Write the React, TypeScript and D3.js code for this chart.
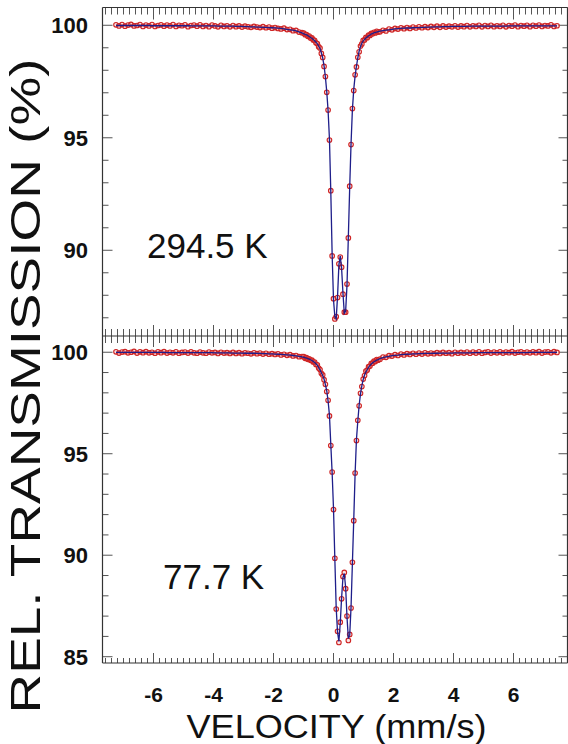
import { useEffect, useRef } from 'react';
import * as d3 from 'd3';

// channel velocities (mm/s)
const velocity = [
  -7.25, -7.15, -7.05, -6.95, -6.85, -6.75, -6.65, -6.55, -6.45, -6.35,
  -6.25, -6.15, -6.05, -5.95, -5.85, -5.75, -5.65, -5.55, -5.45, -5.35,
  -5.25, -5.15, -5.05, -4.95, -4.85, -4.75, -4.65, -4.55, -4.45, -4.35,
  -4.25, -4.15, -4.05, -3.95, -3.85, -3.75, -3.65, -3.55, -3.45, -3.35,
  -3.25, -3.15, -3.05, -2.95, -2.85, -2.75, -2.65, -2.55, -2.45, -2.35,
  -2.25, -2.15, -2.05, -1.95, -1.85, -1.75, -1.65, -1.55, -1.45, -1.35,
  -1.25, -1.15, -1.05,
  -0.99, -0.945, -0.9, -0.855, -0.81, -0.765, -0.72, -0.675, -0.63, -0.585,
  -0.54, -0.495, -0.45, -0.405, -0.36, -0.315, -0.27, -0.225, -0.18, -0.135,
  -0.09, -0.045, 0, 0.045, 0.09, 0.135, 0.18, 0.225, 0.27, 0.315,
  0.36, 0.405, 0.45, 0.495, 0.54, 0.585, 0.63, 0.675, 0.72, 0.765,
  0.81, 0.855, 0.9, 0.945, 0.99, 1.035, 1.08, 1.125, 1.17, 1.215,
  1.26, 1.305, 1.35, 1.395, 1.44, 1.485,
  1.55, 1.65, 1.75, 1.85, 1.95, 2.05, 2.15, 2.25, 2.35, 2.45,
  2.55, 2.65, 2.75, 2.85, 2.95, 3.05, 3.15, 3.25, 3.35, 3.45,
  3.55, 3.65, 3.75, 3.85, 3.95, 4.05, 4.15, 4.25, 4.35, 4.45,
  4.55, 4.65, 4.75, 4.85, 4.95, 5.05, 5.15, 5.25, 5.35, 5.45,
  5.55, 5.65, 5.75, 5.85, 5.95, 6.05, 6.15, 6.25, 6.35, 6.45,
  6.55, 6.65, 6.75, 6.85, 6.95, 7.05, 7.15, 7.25, 7.35, 7.45,
];

// 294.5 K : measured points and fitted curve (%)
const data294 = [
  100.02, 99.97, 100.03, 99.96, 100.01, 100.04, 99.97, 99.99, 100.03, 99.95,
  100.01, 99.97, 100.03, 99.95, 99.99, 100.02, 99.96, 100.01, 99.97, 100.03,
  99.95, 100.0, 99.98, 100.02, 99.94, 99.99, 100.01, 99.96, 100.02, 99.95,
  99.99, 99.94, 100.01, 99.97, 99.93, 100.0, 99.95, 99.98, 99.93, 99.99,
  99.94, 99.97, 99.92, 99.96, 99.93, 99.91, 99.95, 99.92, 99.9, 99.94,
  99.89, 99.92, 99.87, 99.9, 99.86, 99.84, 99.87, 99.81, 99.82, 99.76,
  99.77, 99.7, 99.67,
  99.65, 99.58, 99.59, 99.51, 99.52, 99.43, 99.44, 99.35, 99.33, 99.22,
  99.19, 99.05, 98.99, 98.75, 98.57, 98.17, 97.72, 97.02, 96.23, 94.9,
  92.65, 89.75, 87.85, 86.95, 87.05, 87.9, 89.4, 89.7, 89.25, 88.05,
  87.25, 87.25, 88.5, 90.55, 92.85, 94.7, 96.3, 97.1, 97.8, 98.15,
  98.58, 98.82, 99.08, 99.17, 99.33, 99.35, 99.46, 99.45, 99.56, 99.55,
  99.64, 99.62, 99.69, 99.66, 99.73, 99.7,
  99.71, 99.78, 99.75, 99.83, 99.8, 99.86, 99.83, 99.89, 99.85, 99.9,
  99.86, 99.92, 99.88, 99.93, 99.89, 99.94, 99.9, 99.95, 99.91, 99.96,
  99.91, 99.97, 99.92, 99.96, 99.93, 99.98, 99.92, 99.97, 99.94, 99.99,
  99.93, 99.98, 99.95, 100.0, 99.93, 99.99, 99.95, 100.0, 99.94, 99.98,
  99.95, 100.0, 99.93, 99.99, 99.96, 100.01, 99.94, 99.99, 99.96, 100.0,
  99.94, 100.0, 99.96, 100.01, 99.95, 99.99, 99.97, 100.02, 99.95, 99.98,
];
const fit294 = [
  99.99, 99.99, 99.99, 99.99, 99.99, 99.99, 99.99, 99.99, 99.99, 99.99,
  99.99, 99.99, 99.98, 99.98, 99.98, 99.98, 99.98, 99.98, 99.98, 99.98,
  99.98, 99.98, 99.98, 99.98, 99.98, 99.97, 99.97, 99.97, 99.97, 99.97,
  99.97, 99.97, 99.97, 99.97, 99.96, 99.96, 99.96, 99.96, 99.96, 99.96,
  99.95, 99.95, 99.95, 99.94, 99.94, 99.93, 99.93, 99.92, 99.92, 99.91,
  99.91, 99.9, 99.89, 99.88, 99.87, 99.86, 99.84, 99.82, 99.8, 99.78,
  99.75, 99.71, 99.66,
  99.62, 99.6, 99.57, 99.54, 99.5, 99.46, 99.42, 99.37, 99.31, 99.25,
  99.17, 99.08, 98.97, 98.78, 98.55, 98.2, 97.7, 97.05, 96.2, 94.95,
  92.6, 89.8, 87.8, 87.05, 86.95, 87.95, 89.35, 89.75, 89.2, 88.1,
  87.2, 87.3, 88.45, 90.6, 92.8, 94.75, 96.25, 97.15, 97.75, 98.18,
  98.55, 98.85, 99.05, 99.2, 99.3, 99.37, 99.43, 99.48, 99.53, 99.57,
  99.61, 99.64, 99.66, 99.68, 99.7, 99.72,
  99.74, 99.76, 99.78, 99.8, 99.82, 99.84, 99.85, 99.86, 99.87, 99.88,
  99.88, 99.89, 99.9, 99.9, 99.91, 99.91, 99.92, 99.92, 99.93, 99.93,
  99.93, 99.94, 99.94, 99.94, 99.95, 99.95, 99.95, 99.95, 99.95, 99.95,
  99.96, 99.96, 99.96, 99.96, 99.96, 99.96, 99.96, 99.96, 99.96, 99.96,
  99.96, 99.96, 99.96, 99.97, 99.97, 99.97, 99.97, 99.97, 99.97, 99.97,
  99.97, 99.97, 99.97, 99.97, 99.97, 99.97, 99.97, 99.97, 99.97, 99.97,
];

// 77.7 K : measured points and fitted curve (%)
const data77 = [
  100.02, 99.96, 100.01, 100.03, 99.97, 100.0, 100.04, 99.96, 100.02, 99.98,
  100.03, 99.97, 100.0, 99.95, 100.02, 99.98, 100.03, 99.96, 100.0, 99.97,
  100.02, 99.95, 99.99, 100.01, 99.96, 100.02, 99.97, 99.95, 100.01, 99.97,
  99.95, 100.01, 99.97, 99.99, 99.94, 100.0, 99.96, 99.98, 99.94, 99.99,
  99.94, 99.98, 99.93, 99.97, 99.95, 99.92, 99.97, 99.93, 99.96, 99.91,
  99.95, 99.9, 99.93, 99.89, 99.92, 99.87, 99.9, 99.85, 99.88, 99.82,
  99.84, 99.78, 99.79,
  99.78, 99.7, 99.73, 99.65, 99.68, 99.6, 99.61, 99.52, 99.52, 99.4,
  99.38, 99.22, 99.15, 98.96, 98.88, 98.65, 98.42, 98.06, 97.63, 96.86,
  95.4, 94.1, 92.25, 89.85, 87.35, 86.25, 85.7, 86.7, 87.85, 88.95,
  89.15, 88.35, 87.0, 85.8, 86.1, 87.4, 89.65, 91.7, 94.05, 95.65,
  96.65, 97.36, 97.98, 98.31, 98.68, 98.85, 99.07, 99.12, 99.29, 99.32,
  99.45, 99.46, 99.56, 99.54, 99.64, 99.61,
  99.66, 99.76, 99.75, 99.83, 99.81, 99.88, 99.84, 99.91, 99.87, 99.93,
  99.89, 99.95, 99.9, 99.96, 99.91, 99.97, 99.92, 99.96, 99.93, 99.98,
  99.94, 99.99, 99.95, 99.98, 99.93, 100.0, 99.95, 99.99, 99.96, 100.01,
  99.95, 100.01, 99.96, 100.02, 99.95, 99.99, 100.02, 99.96, 100.01, 99.97,
  100.02, 99.96, 100.01, 99.98, 100.03, 99.96, 100.0, 100.02, 99.97, 100.01,
  99.97, 100.02, 99.98, 100.03, 99.96, 100.01, 100.02, 99.97, 100.03, 99.99,
];
const fit77 = [
  99.99, 99.99, 99.99, 99.99, 99.99, 99.99, 99.99, 99.99, 99.99, 99.99,
  99.99, 99.99, 99.99, 99.99, 99.99, 99.99, 99.99, 99.98, 99.98, 99.98,
  99.98, 99.98, 99.98, 99.98, 99.98, 99.98, 99.98, 99.98, 99.98, 99.98,
  99.98, 99.98, 99.98, 99.97, 99.97, 99.97, 99.97, 99.97, 99.97, 99.96,
  99.96, 99.96, 99.96, 99.95, 99.95, 99.95, 99.95, 99.94, 99.94, 99.93,
  99.93, 99.92, 99.92, 99.91, 99.9, 99.89, 99.88, 99.87, 99.86, 99.84,
  99.82, 99.8, 99.77,
  99.75, 99.73, 99.71, 99.68, 99.66, 99.63, 99.59, 99.55, 99.5, 99.43,
  99.36, 99.25, 99.13, 98.99, 98.85, 98.68, 98.4, 98.1, 97.6, 96.9,
  95.45, 94.05, 92.3, 89.8, 87.4, 86.2, 85.75, 86.65, 87.9, 88.9,
  89.1, 88.4, 86.95, 85.9, 86.05, 87.45, 89.6, 91.75, 94.0, 95.7,
  96.6, 97.4, 97.95, 98.35, 98.65, 98.88, 99.03, 99.15, 99.26, 99.35,
  99.42, 99.48, 99.53, 99.57, 99.61, 99.64,
  99.69, 99.74, 99.77, 99.8, 99.83, 99.85, 99.86, 99.88, 99.89, 99.9,
  99.91, 99.92, 99.92, 99.93, 99.93, 99.94, 99.94, 99.94, 99.95, 99.95,
  99.96, 99.96, 99.96, 99.96, 99.96, 99.97, 99.97, 99.97, 99.97, 99.97,
  99.97, 99.98, 99.98, 99.98, 99.98, 99.98, 99.98, 99.98, 99.98, 99.98,
  99.98, 99.98, 99.98, 99.98, 99.98, 99.98, 99.98, 99.98, 99.98, 99.98,
  99.99, 99.99, 99.99, 99.99, 99.99, 99.99, 99.99, 99.99, 99.99, 99.99,
];

const xTicks = [-6, -4, -2, 0, 2, 4, 6];
const yTicksTop = [90, 95, 100];
const yTicksBottom = [85, 90, 95, 100];
const tempLabels = ['294.5 K', '77.7 K'];

const font = 'Liberation Sans, Arial, Helvetica, sans-serif';

export default function App() {
  const svgRef = useRef<SVGSVGElement>(null);

  const width = 568,
    height = 744,
    left = 102.5,
    right = 567.5,
    top = 7.5,
    mid = 336,
    bottom = 663;

  useEffect(() => {
    const svg = d3.select(svgRef.current);
    svg.selectAll('*').remove();

    const x = d3.scaleLinear().domain([-7.7, 7.8]).range([left, right]);
    const xMinor = d3.range(-7.6, 7.81, 0.2).map((d) => Math.round(d * 10) / 10);

    const panels = [
      {
        data: data294,
        fit: fit294,
        y: d3.scaleLinear().domain([86.19, 100.79]).range([mid, top]),
        ticks: yTicksTop,
        label: tempLabels[0],
        lx: 147,
        ly: 258,
        y0: top,
        y1: mid,
      },
      {
        data: data77,
        fit: fit77,
        y: d3.scaleLinear().domain([84.69, 100.8]).range([bottom, mid]),
        ticks: yTicksBottom,
        label: tempLabels[1],
        lx: 163,
        ly: 589,
        y0: mid,
        y1: bottom,
      },
    ];

    const tickColor = '#555';

    panels.forEach((p, pi) => {
      const g = svg.append('g');
      const [lo, hi] = p.y.domain();
      const yMinor = d3.range(Math.ceil(lo), Math.floor(hi) + 1);

      // y ticks, inward on both sides
      g.selectAll('.yl')
        .data(yMinor)
        .join('line')
        .attr('x1', left)
        .attr('x2', (d) => left + (d % 5 === 0 ? 10 : 6))
        .attr('y1', (d) => p.y(d))
        .attr('y2', (d) => p.y(d))
        .attr('stroke', tickColor)
        .attr('stroke-width', 1);
      g.selectAll('.yr')
        .data(yMinor)
        .join('line')
        .attr('x1', right)
        .attr('x2', (d) => right - (d % 5 === 0 ? 9 : 5))
        .attr('y1', (d) => p.y(d))
        .attr('y2', (d) => p.y(d))
        .attr('stroke', tickColor)
        .attr('stroke-width', 1);

      // x ticks on top and bottom edge of the panel, inward
      const isMajor = (d: number) => Math.abs(d / 2 - Math.round(d / 2)) < 1e-6;
      const topLen = pi === 0 ? [7, 12] : [7, 11];
      const botLen = pi === 0 ? [7, 11] : [5, 10];
      g.selectAll('.xt')
        .data(xMinor)
        .join('line')
        .attr('x1', (d) => x(d))
        .attr('x2', (d) => x(d))
        .attr('y1', p.y0)
        .attr('y2', (d) => p.y0 + (isMajor(d) ? topLen[1] : topLen[0]))
        .attr('stroke', tickColor)
        .attr('stroke-width', 1);
      g.selectAll('.xb')
        .data(xMinor)
        .join('line')
        .attr('x1', (d) => x(d))
        .attr('x2', (d) => x(d))
        .attr('y1', p.y1)
        .attr('y2', (d) => p.y1 - (isMajor(d) ? botLen[1] : botLen[0]))
        .attr('stroke', tickColor)
        .attr('stroke-width', 1);

      // y tick labels
      g.selectAll('.ylab')
        .data(p.ticks)
        .join('text')
        .attr('x', 88)
        .attr('y', (d) => p.y(d))
        .attr('dy', '0.36em')
        .attr('text-anchor', 'end')
        .attr('font-family', font)
        .attr('font-weight', 'bold')
        .attr('font-size', 22)
        .attr('fill', '#111')
        .text((d) => d);

      const pts = velocity
        .map((v, i) => ({ v, t: p.data[i], f: p.fit[i] }))
        .filter((d) => d.t !== undefined && d.f !== undefined);

      // measured points
      g.selectAll('circle')
        .data(pts)
        .join('circle')
        .attr('cx', (d) => x(d.v))
        .attr('cy', (d) => p.y(d.t))
        .attr('r', 2.3)
        .attr('fill', 'rgba(235,140,140,0.25)')
        .attr('stroke', '#cf2424')
        .attr('stroke-width', 1.1);

      // fitted curve
      const line = d3
        .line<{ v: number; f: number }>()
        .x((d) => x(d.v))
        .y((d) => p.y(d.f));
      g.append('path')
        .datum(pts)
        .attr('d', line)
        .attr('fill', 'none')
        .attr('stroke', '#1e1e8a')
        .attr('stroke-width', 1.3);

      g.append('text')
        .attr('x', p.lx)
        .attr('y', p.ly)
        .attr('font-family', font)
        .attr('font-size', 35)
        .attr('fill', '#111')
        .text(p.label);
    });

    // frame
    const frame = svg.append('g').attr('stroke', '#333').attr('stroke-width', 1.2);
    [top, mid, bottom].forEach((yy) =>
      frame.append('line').attr('x1', left).attr('x2', right).attr('y1', yy).attr('y2', yy)
    );
    [left, right].forEach((xx) =>
      frame.append('line').attr('x1', xx).attr('x2', xx).attr('y1', top).attr('y2', bottom)
    );

    // x tick labels
    svg
      .append('g')
      .selectAll('text')
      .data(xTicks)
      .join('text')
      .attr('x', (d) => x(d))
      .attr('y', 701.5)
      .attr('text-anchor', 'middle')
      .attr('font-family', font)
      .attr('font-weight', 'bold')
      .attr('font-size', 21)
      .attr('fill', '#111')
      .text((d) => d);

    svg
      .append('text')
      .attr('x', 336.5)
      .attr('y', 737.5)
      .attr('text-anchor', 'middle')
      .attr('font-family', font)
      .attr('font-size', 34)
      .attr('fill', '#111')
      .attr('textLength', 300)
      .attr('lengthAdjust', 'spacingAndGlyphs')
      .text('VELOCITY (mm/s)');

    svg
      .append('text')
      .attr('transform', 'translate(40,386) rotate(-90)')
      .attr('text-anchor', 'middle')
      .attr('font-family', font)
      .attr('font-size', 42)
      .attr('fill', '#111')
      .attr('textLength', 655)
      .attr('lengthAdjust', 'spacingAndGlyphs')
      .text('REL. TRANSMISSION (%)');
  }, []);

  return (
    <svg
      ref={svgRef}
      width={width}
      height={height}
      style={{ position: 'absolute', left: 0, top: 0, background: '#fff' }}
    />
  );
}
